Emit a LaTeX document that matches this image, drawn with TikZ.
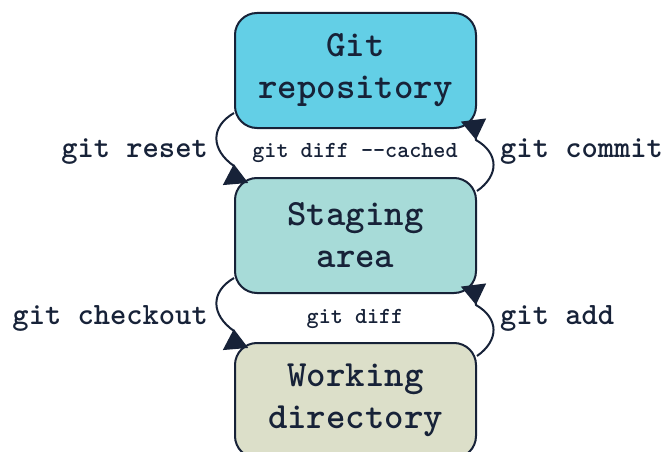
\documentclass[tikz,border=0pt]{standalone}
\usetikzlibrary{arrows.meta}
\definecolor{navy}{HTML}{172238}
\definecolor{repofill}{HTML}{63CFE6}
\definecolor{stagefill}{HTML}{A7DBD8}
\definecolor{workfill}{HTML}{DCDFC9}
\tikzset{
  area/.style={draw=navy, line width=2pt, rounded corners=22pt, minimum width=241pt,
    minimum height=115pt, inner sep=0pt, align=center, text=navy,
    font=\ttfamily\bfseries\fontsize{37}{42}\selectfont},
  cmd/.style={text=navy, inner sep=0pt, font=\ttfamily\bfseries\fontsize{31}{34}\selectfont},
  diffl/.style={text=navy, inner sep=0pt, font=\ttfamily\bfseries\fontsize{23}{26}\selectfont},
  headtip/.tip={Triangle[reversed,length=20pt,width=25pt]},
  flow/.style={draw=navy, line width=2pt, arrows={-headtip}}
}
\begin{document}
\begin{tikzpicture}[x=1pt,y=1pt]
\useasboundingbox (0,0) rectangle (662,-452);
\clip (0,0) rectangle (662,-452);
\fill[white] (0,0) rectangle (662,-452);
\node[area, fill=repofill] (repo) at (355.5,-70.5) {Git\\repository};
\node[area, fill=stagefill] (stage) at (355.5,-235.5) {Staging\\area};
\node[area, fill=workfill] (work) at (355.5,-400.5) {Working\\directory};
% git reset
\draw[flow] ([yshift=16pt]repo.south west) to[out=210,in=145,looseness=1.35]
  ([yshift=11pt]stage.north west) -- ([xshift=1.5pt,yshift=-7pt]stage.north west);
% git commit
\draw[flow] ([yshift=-14pt]stage.north east) to[out=35,in=-30,looseness=1.35]
  ([xshift=-1pt,yshift=-11pt]repo.south east) -- ([xshift=-3.5pt,yshift=9pt]repo.south east);
% git checkout
\draw[flow] ([yshift=16pt]stage.south west) to[out=210,in=145,looseness=1.35]
  ([yshift=11pt]work.north west) -- ([xshift=1.5pt,yshift=-7pt]work.north west);
% git add
\draw[flow] ([yshift=-14pt]work.north east) to[out=35,in=-30,looseness=1.35]
  ([xshift=-1pt,yshift=-11pt]stage.south east) -- ([xshift=-3.5pt,yshift=9pt]stage.south east);
\node[cmd, anchor=east] (reset) at (208,-152) {git reset};
\node[cmd, anchor=west] (commit) at (500,-152) {git commit};
\node[cmd, anchor=east] (checkout) at (208,-318) {git checkout};
\node[cmd, anchor=west] (add) at (500,-318) {git add};
\node[diffl] (cached) at (355,-153) {git diff -{}-cached};
\node[diffl] (diff) at (355,-319) {git diff};
\end{tikzpicture}
\end{document}
